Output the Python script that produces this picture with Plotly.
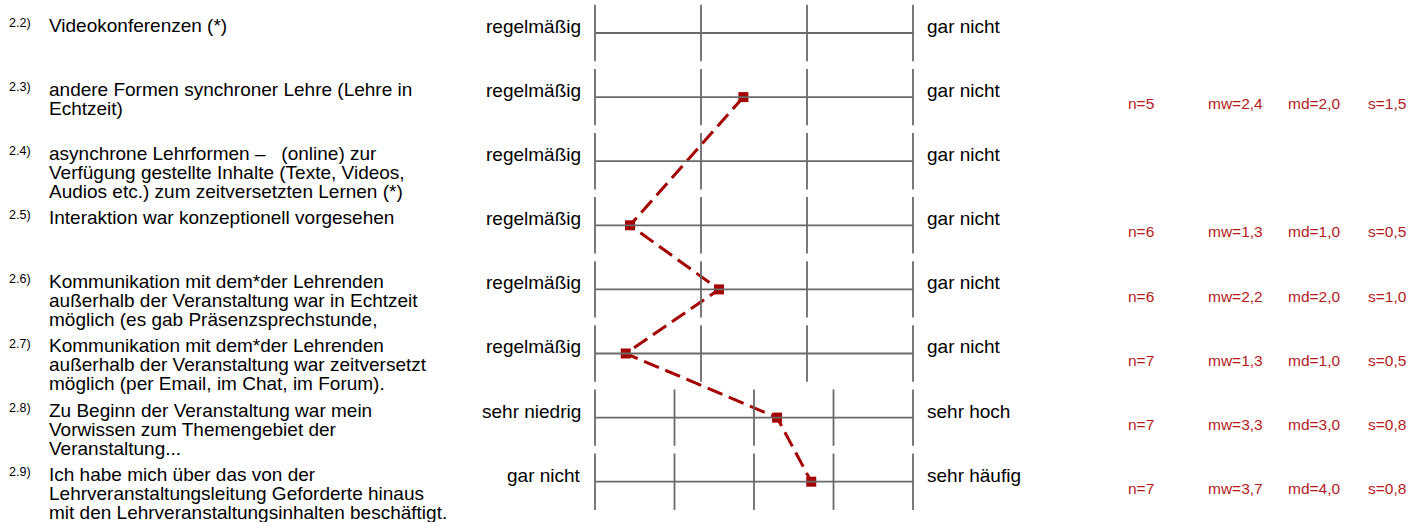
import plotly.graph_objects as go

# ---------------- data ----------------
item_ids = ["2.2)", "2.3)", "2.4)", "2.5)", "2.6)", "2.7)", "2.8)", "2.9)"]
questions = [
    ["Videokonferenzen (*)"],
    ["andere Formen synchroner Lehre (Lehre in", "Echtzeit)"],
    ["asynchrone Lehrformen –\u00a0\u00a0\u00a0(online) zur",
     "Verfügung gestellte Inhalte (Texte, Videos,",
     "Audios etc.) zum zeitversetzten Lernen (*)"],
    ["Interaktion war konzeptionell vorgesehen"],
    ["Kommunikation mit dem*der Lehrenden",
     "außerhalb der Veranstaltung war in Echtzeit",
     "möglich (es gab Präsenzsprechstunde,"],
    ["Kommunikation mit dem*der Lehrenden",
     "außerhalb der Veranstaltung war zeitversetzt",
     "möglich (per Email, im Chat, im Forum)."],
    ["Zu Beginn der Veranstaltung war mein",
     "Vorwissen zum Themengebiet der",
     "Veranstaltung..."],
    ["Ich habe mich über das von der",
     "Lehrveranstaltungsleitung Geforderte hinaus",
     "mit den Lehrveranstaltungsinhalten beschäftigt."],
]
left_labels = ["regelmäßig"] * 6 + ["sehr niedrig", "gar nicht"]
right_labels = ["gar nicht"] * 6 + ["sehr hoch", "sehr häufig"]
scale_points = [4, 4, 4, 4, 4, 4, 5, 5]

n_values = [None, 5, None, 6, 6, 7, 7, 7]
mw_values = [None, 2.4, None, 1.3, 2.2, 1.3, 3.3, 3.7]
md_values = [None, 2.0, None, 1.0, 2.0, 1.0, 3.0, 4.0]
s_values = [None, 1.5, None, 0.5, 1.0, 0.5, 0.8, 0.8]
# mean positions as drawn on the scales
plotted_means = [None, 2.4, None, 1.33, 2.17, 1.29, 3.29, 3.72]

# ---------------- layout constants ----------------
W, H = 1423, 522
SCALE_LEFT, SCALE_RIGHT = 595, 913       # pixel extent of scale
ROW0, ROW_STEP = 33, 64.1                # pixel y of first row line, spacing
TICK_HALF = 0.44                         # half tick height in row units
FONT = "Liberation Sans, Arial, sans-serif"
GREY = "#6a6a6a"
DARKRED = "#a50000"
STATRED = "#b31b1b"
TXT = 19
LINE_H = 19

span = SCALE_RIGHT - SCALE_LEFT
x0 = -SCALE_LEFT / span
x1 = x0 + W / span
y_top = -ROW0 / ROW_STEP
y_bot = (H - ROW0) / ROW_STEP

fig = go.Figure()

nrows = len(item_ids)
# scale lines
for i in range(nrows):
    k = scale_points[i]
    fig.add_shape(type="line", xref="x", yref="y", x0=0, x1=1, y0=i, y1=i,
                  line=dict(color=GREY, width=1.8))
    for j in range(k):
        p = j / (k - 1)
        fig.add_shape(type="line", xref="x", yref="y", x0=p, x1=p,
                      y0=i - TICK_HALF, y1=i + TICK_HALF,
                      line=dict(color=GREY, width=1.8))

# profile line
px, py = [], []
for i in range(nrows):
    if plotted_means[i] is not None:
        px.append((plotted_means[i] - 1) / (scale_points[i] - 1))
        py.append(i)
fig.add_trace(go.Scatter(
    x=px, y=py, mode="lines+markers",
    line=dict(color=DARKRED, width=3, dash="16px,7px"),
    marker=dict(symbol="square", size=10, color=DARKRED, line=dict(width=0)),
    hoverinfo="skip"))

def center_shift(size):
    return 0.3465 * size

ann = []
for i in range(nrows):
    # item number
    ann.append(dict(xref="paper", yref="y", x=7 / W, y=i, xanchor="left",
                    yanchor="middle", yshift=10, text=item_ids[i],
                    showarrow=False, font=dict(family=FONT, size=12.5, color="#000")))
    for j, line in enumerate(questions[i]):
        ann.append(dict(xref="paper", yref="y", x=47 / W, y=i, xanchor="left",
                        yanchor="middle",
                        yshift=center_shift(TXT) + 1 - LINE_H * j,
                        text=line, showarrow=False,
                        font=dict(family=FONT, size=TXT, color="#000")))
    ann.append(dict(xref="x", yref="y", x=0, y=i, xanchor="right",
                    yanchor="middle", xshift=-12, yshift=center_shift(TXT),
                    text=left_labels[i], showarrow=False,
                    font=dict(family=FONT, size=TXT, color="#000")))
    ann.append(dict(xref="x", yref="y", x=1, y=i, xanchor="left",
                    yanchor="middle", xshift=12, yshift=center_shift(TXT),
                    text=right_labels[i], showarrow=False,
                    font=dict(family=FONT, size=TXT, color="#000")))
    if n_values[i] is not None:
        stats = [f"n={n_values[i]}",
                 "mw=" + f"{mw_values[i]:.1f}".replace(".", ","),
                 "md=" + f"{md_values[i]:.1f}".replace(".", ","),
                 "s=" + f"{s_values[i]:.1f}".replace(".", ",")]
        for sx, st in zip([1126, 1206, 1286, 1366], stats):
            ann.append(dict(xref="paper", yref="y", x=sx / W, y=i,
                            xanchor="left", yanchor="middle",
                            yshift=-12 + center_shift(15.5), text=st,
                            showarrow=False,
                            font=dict(family=FONT, size=15.5, color=STATRED)))

fig.update_layout(
    width=W, height=H, margin=dict(l=0, r=0, t=0, b=0),
    paper_bgcolor="white", plot_bgcolor="white", showlegend=False,
    xaxis=dict(range=[x0, x1], visible=False, fixedrange=True),
    yaxis=dict(range=[y_bot, y_top], visible=False, fixedrange=True),
    annotations=ann,
)

fig.write_html("out.html", config={"displayModeBar": False},
               post_script="document.body.style.margin='0';")
